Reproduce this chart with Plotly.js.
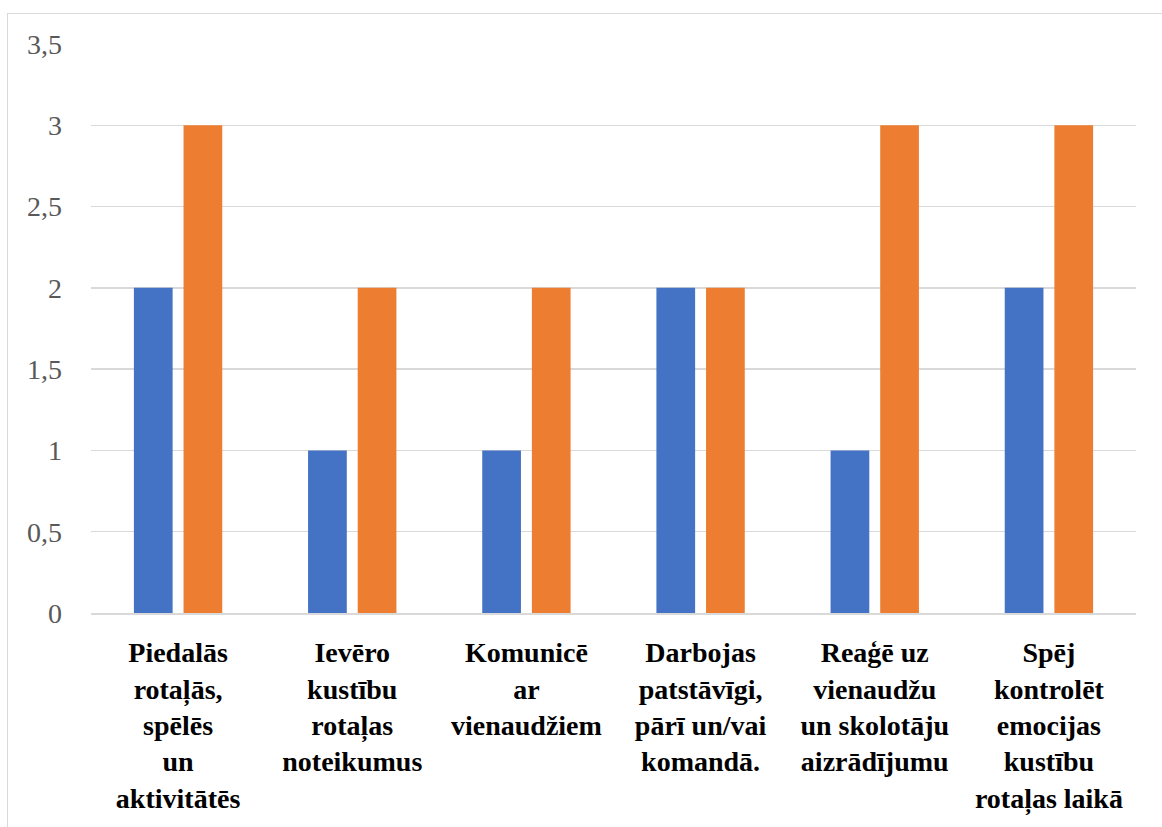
<!DOCTYPE html>
<html>
<head>
<meta charset="utf-8">
<script src="https://cdn.plot.ly/plotly-3.0.1.min.js"></script>
<style>
  html, body { margin: 0; padding: 0; background: #ffffff; overflow: hidden; }
  #frame { position: absolute; left: 7px; top: 13px; width: 1300px; height: 1000px; border: 1.5px solid #d9d9d9; box-sizing: border-box; pointer-events: none; z-index: 2; }
  #chart { position: absolute; left: 0; top: 0; width: 1162px; height: 827px; }
  svg text { font-family: 'Liberation Serif', serif !important; }
</style>
</head>
<body>
<div id="chart"></div>
<div id="frame"></div>
<script>
const categories = [
  "Piedalās<br>rotaļās,<br>spēlēs<br>un<br>aktivitātēs",
  "Ievēro<br>kustību<br>rotaļas<br>noteikumus",
  "Komunicē<br>ar<br>vienaudžiem",
  "Darbojas<br>patstāvīgi,<br>pārī un/vai<br>komandā.",
  "Reaģē uz<br>vienaudžu<br>un skolotāju<br>aizrādījumu",
  "Spēj<br>kontrolēt<br>emocijas<br>kustību<br>rotaļas laikā"
];
const series1 = [2, 1, 1, 2, 1, 2];
const series2 = [3, 2, 2, 2, 3, 3];
const yTicks = [0, 0.5, 1, 1.5, 2, 2.5, 3, 3.5];
const yTickLabels = ["0", "0,5", "1", "1,5", "2", "2,5", "3", "3,5"];

const SERIF = "Liberation Serif, serif";

const traces = [
  { type: "bar", name: "1", x: categories, y: series1, marker: { color: "#4472C4" }, hoverinfo: "y" },
  { type: "bar", name: "2", x: categories, y: series2, marker: { color: "#ED7D31" }, hoverinfo: "y" }
];

const layout = {
  width: 1162,
  height: 827,
  margin: { l: 91, r: 26, t: 44, b: 214 },
  paper_bgcolor: "#ffffff",
  plot_bgcolor: "#ffffff",
  showlegend: false,
  barmode: "group",
  bargap: 0.43,
  bargroupgap: 0.22,
  separators: ", ",
  font: { family: SERIF, color: "#595959", size: 28 },
  xaxis: {
    type: "category",
    showgrid: false,
    showline: true,
    linecolor: "#d9d9d9",
    linewidth: 1.5,
    ticks: "",
    ticklabelstandoff: 14,
    tickangle: 0,
    tickfont: { family: SERIF, size: 28, color: "#000000", weight: "bold" },
    fixedrange: true
  },
  yaxis: {
    range: [0, 3.5],
    tickvals: yTicks,
    ticktext: yTickLabels,
    showgrid: true,
    gridcolor: "#d9d9d9",
    gridwidth: 1.5,
    zeroline: false,
    showline: false,
    ticks: "",
    ticklabelstandoff: 28,
    tickfont: { family: SERIF, size: 28, color: "#595959" },
    fixedrange: true
  }
};

Plotly.newPlot("chart", traces, layout, { displayModeBar: false, staticPlot: true });
</script>
</body>
</html>
